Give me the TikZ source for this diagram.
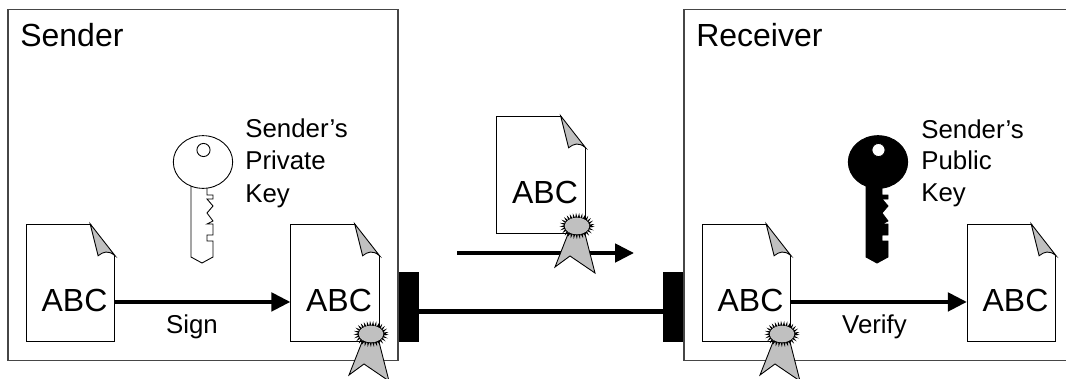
\documentclass[tikz,border=0pt]{standalone}
\usepackage{fontspec}
\setmainfont{Liberation Sans}
\usetikzlibrary{arrows.meta,calc,shapes.geometric,decorations.pathmorphing}
\definecolor{edgegray}{RGB}{70,70,70}
\definecolor{foldgray}{RGB}{192,192,192}
\tikzstyle{arrow} = [line width=2.3pt,-{Triangle[length=10.8pt,width=10.4pt]},black]
\tikzstyle{station} = [rectangle, draw=edgegray, line width=0.6pt, inner sep=0pt, minimum width=222pt, minimum height=199.6pt]
\tikzstyle{document} = [rectangle, draw=black, line width=0.5pt, fill=white, inner sep=0pt, minimum width=50.3pt, minimum height=66.9pt]
\tikzstyle{bar} = [rectangle, fill=black, inner sep=0pt, minimum width=11.3pt, minimum height=39.4pt]
\tikzstyle{abc} = [anchor=base, font=\fontsize{18.2}{20}\selectfont]
\tikzstyle{heading} = [anchor=base west, font=\fontsize{18.2}{20}\selectfont]
\tikzstyle{caption} = [anchor=base, font=\fontsize{14.7}{18}\selectfont]
\tikzstyle{keylabel} = [anchor=base west, font=\fontsize{14.7}{18}\selectfont]
\begin{document}
\begin{tikzpicture}[x=0.02cm,y=-0.02cm]
\useasboundingbox (0,0) rectangle (1066,379);
\clip (0,0) rectangle (1066,379);
% Sender and receiver
\node[station] (sender) at (203,185) {};
\node[station] (receiver) at (879,185) {};
\node[heading, inner sep=0pt] (sendertitle) at (20,46) {Sender};
\node[heading, inner sep=0pt] (receivertitle) at (696,46) {Receiver};

% Link between them
\node[bar] (barleft) at (409,307) {};
\node[bar] (barright) at (673,307) {};
\draw[line width=2.9pt] ($(barleft.south east)!0.43!(barleft.north east)$) -- ($(barright.south west)!0.43!(barright.north west)$);

% Keys
\foreach \keyname/\keyx/\keyfill/\holefill in {private/0/white/white,public/675/black/white} {
  \begin{scope}[shift={(\keyx,0)}]
  \draw[line width=0.5pt, fill=\keyfill] (191,185) -- (191,257) -- (202,263) -- (213,257) -- (213,241) -- (207,241) -- (207,235) -- (213,235) -- (213,224) -- (207,224) -- (213,221) -- (207,213) -- (213,206) -- (207,199) -- (213,199) -- (213,195) -- (207,195) -- (207,185) -- cycle;
  \node[ellipse, draw, line width=0.5pt, fill=\keyfill, inner sep=0pt, minimum width=33.8pt, minimum height=30pt] (\keyname bow) at (203,162) {};
  \node[ellipse, draw, line width=0.5pt, fill=\holefill, inner sep=0pt, minimum width=7.5pt, minimum height=7.5pt] (\keyname hole) at (203.5,150) {};
  \end{scope}
}
\node[keylabel, inner sep=0pt] (privatetext1) at (245,137) {Sender’s};
\node[keylabel, inner sep=0pt] (privatetext2) at (245,169) {Private};
\node[keylabel, inner sep=0pt] (privatetext3) at (245,202) {Key};
\node[keylabel, inner sep=0pt] (publictext1) at (921,138) {Sender’s};
\node[keylabel, inner sep=0pt] (publictext2) at (921,169) {Public};
\node[keylabel, inner sep=0pt] (publictext3) at (921,201) {Key};

% Documents
\node[document] (plain) at (70.5,283) {};
\node[document] (signed) at (335,283) {};
\node[document] (sent) at (541,175) {};
\node[document] (received) at (746.5,283) {};
\node[document] (verified) at (1011.5,283) {};
\foreach \docname in {plain,signed,sent,received,verified} {
  \fill[white] ($(\docname.north east)+(-25,-1)$) -- ($(\docname.north east)+(1,-1)$) -- ($(\docname.north east)+(1,33)$) -- cycle;
  \draw[line width=0.5pt, fill=foldgray] ($(\docname.north east)+(-25,0)$) -- ($(\docname.north east)+(0,32)$) .. controls ($(\docname.north east)+(-7,26)$) and ($(\docname.north east)+(-12,28)$) .. ($(\docname.north east)+(-17,32)$) -- cycle;
  \node[abc, inner sep=0pt] (\docname text) at ($(\docname.south)+(4,-31)$) {ABC};
}

% Arrows
\draw[arrow] ($(plain.south east)!0.34!(plain.north east)$) -- ($(signed.south west)!0.34!(signed.north west)$);
\draw[arrow] ($(received.south east)!0.34!(received.north east)$) -- ($(verified.south west)!0.34!(verified.north west)$);
\coordinate (flowstart) at (457,253);
\coordinate (flowend) at (634,253);
\draw[arrow] (flowstart) -- (flowend);
\node[caption, inner sep=0pt] (signtext) at (192,333) {Sign};
\node[caption, inner sep=0pt] (verifytext) at (874.5,333) {Verify};

% Seals
\foreach \sealname/\sealx/\sealy in {sealone/371/334,sealtwo/577/226,sealthree/782/334} {
  \begin{scope}[shift={(\sealx,\sealy)}]
  \draw[line width=0.5pt, fill=foldgray] (-9,8) -- (8,8) -- (18,47) -- (-7,30) -- (-22,41) -- cycle;
  \fill[black, decorate, decoration={zigzag,segment length=1.6pt,amplitude=1.5pt}] (0,0) ellipse (15 and 10.5);
  \node[ellipse, fill=foldgray, inner sep=0pt, minimum width=14pt, minimum height=9.5pt] (\sealname) at (0,0) {};
  \end{scope}
}
\end{tikzpicture}
\end{document}
